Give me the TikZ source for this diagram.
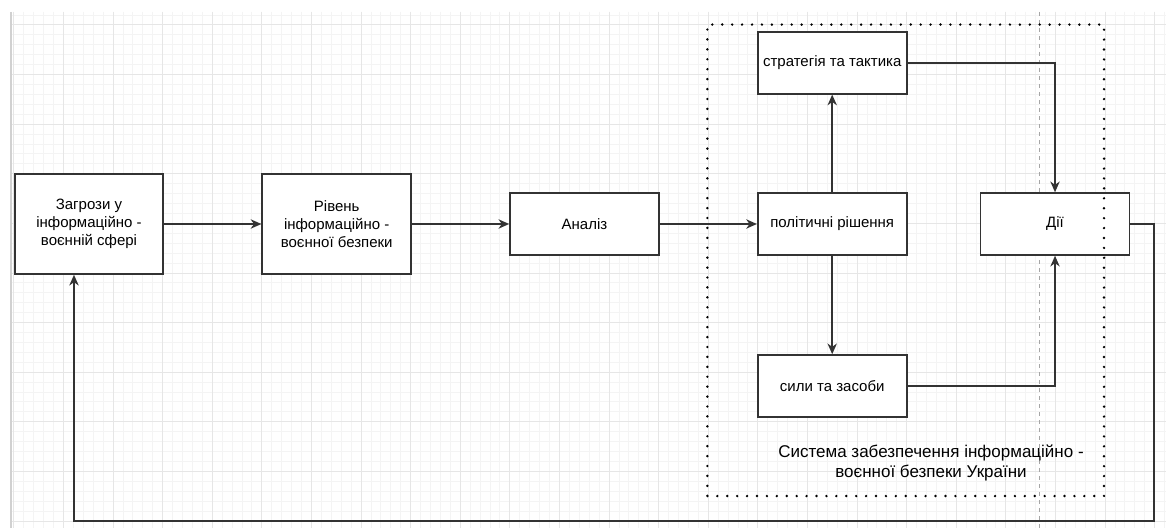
\documentclass[tikz,border=0pt]{standalone}
\usepackage{fontspec}
\setmainfont{Liberation Sans}
\usetikzlibrary{arrows.meta}
\definecolor{edgecol}{HTML}{333333}
\definecolor{minorcol}{HTML}{F4F4F4}
\definecolor{majorcol}{HTML}{E6E6E6}
\begin{document}
\begin{tikzpicture}[x=0.75pt,y=-0.75pt,
  minorgrid/.style={draw=minorcol, line width=0.75pt},
  majorgrid/.style={draw=majorcol, line width=0.75pt},
  box/.style={draw=edgecol, fill=white, line width=1.2pt, inner sep=0pt, align=center,
    minimum width=111.75pt, font=\fontsize{11.25}{13.5}\selectfont},
  tallbox/.style={box, minimum height=75pt},
  flatbox/.style={box, minimum height=46.5pt},
  conn/.style={draw=edgecol, line width=1.2pt, -{Stealth[length=8pt,width=7pt,inset=2.5pt]}},
  sysframe/.style={draw=black, line width=2pt, line cap=round, dash pattern=on 0pt off 7.44pt,
    inner sep=0pt, minimum width=297.5pt, minimum height=353.6pt},
  pageline/.style={draw=black!35, line width=0.75pt, dash pattern=on 3pt off 3pt},
  caption/.style={align=center, font=\fontsize{12.75}{15}\selectfont}]
\useasboundingbox (0,0) rectangle (1166,528);
\fill[white] (0,0) rectangle (1166,528);
% grid
\foreach \i in {0,...,116} {\pgfmathsetmacro\xx{13.9+9.92*\i}\draw[minorgrid] (\xx,12) -- (\xx,528);}
\foreach \j in {0,...,51} {\pgfmathsetmacro\yy{15.08+9.92*\j}\draw[minorgrid] (12,\yy) -- (1166,\yy);}
\foreach \i in {0,...,23} {\pgfmathsetmacro\xx{13.9+49.6*\i}\draw[majorgrid] (\xx,12) -- (\xx,528);}
\foreach \j in {0,...,10} {\pgfmathsetmacro\yy{25+49.6*\j}\draw[majorgrid] (12,\yy) -- (1166,\yy);}
\draw[draw=black!18, line width=1.8pt] (11,12) -- (11,528);
\draw[pageline] (1039.3,12) -- (1039.3,528);
% boxes
\node[tallbox, minimum width=111pt] (threats) at (89,224) {Загрози у\\інформаційно -\\воєнній сфері};
\node[tallbox] (level) at (336.7,224) {Рівень\\інформаційно -\\воєнної безпеки};
\node[flatbox] (analysis) at (584.5,224) {Аналіз};
\node[flatbox] (politics) at (832.2,224) {політичні рішення};
\node[flatbox] (strategy) at (832.2,62.8) {стратегія та тактика};
\node[flatbox] (forces) at (832.2,386) {сили та засоби};
\node[flatbox] (actions) at (1055,224) {Дії};
% frame of the system
\node[sysframe] (sysbox) at (905.7,260.3) {};
\node[caption] (syslabel) at (931,463) {Система забезпечення інформаційно -\\воєнної безпеки України};
% connectors
\draw[conn] (threats) -- (level);
\draw[conn] (level) -- (analysis);
\draw[conn] (analysis) -- (politics);
\draw[conn] (politics) -- (strategy);
\draw[conn] (politics) -- (forces);
\draw[conn] (strategy.east) -| (actions.north);
\draw[conn] (forces.east) -| (actions.south);
\coordinate (fbR) at (1154,521);
\coordinate (fbL) at (74,521);
\draw[conn] (actions.east) -| (fbR) -- (fbL) -- (fbL |- threats.south);
\end{tikzpicture}
\end{document}
